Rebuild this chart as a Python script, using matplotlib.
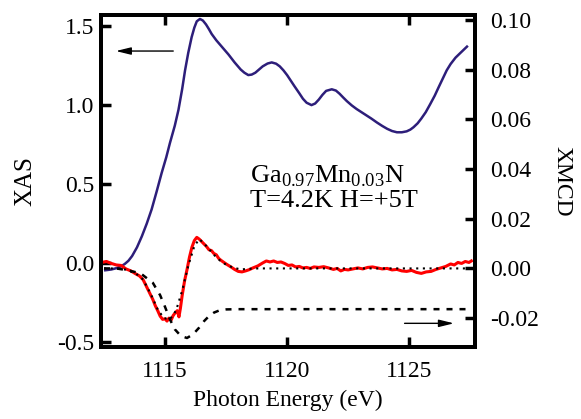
import matplotlib
matplotlib.use("Agg")
import matplotlib.pyplot as plt

plt.rcParams['font.family'] = ['Liberation Serif', 'DejaVu Serif']
plt.rcParams['mathtext.fontset'] = 'custom'
plt.rcParams['mathtext.rm'] = 'Liberation Serif'
plt.rcParams['axes.unicode_minus'] = False

# XAS (left axis)
xas_e = [1112.55, 1112.8, 1113.0, 1113.2, 1113.35, 1113.5, 1113.65, 1113.85, 1114.05, 1114.25,
         1114.45, 1114.65, 1114.86, 1115.05, 1115.2, 1115.4, 1115.55, 1115.7, 1115.82, 1115.95,
         1116.09, 1116.2, 1116.3, 1116.43, 1116.55, 1116.68, 1116.8, 1116.91, 1117.1, 1117.35,
         1117.6, 1117.85, 1118.1, 1118.25, 1118.41, 1118.55, 1118.7, 1118.85, 1119.0, 1119.2,
         1119.37, 1119.55, 1119.7, 1119.85, 1120.0, 1120.15, 1120.3, 1120.5, 1120.65, 1120.8,
         1121.0, 1121.15, 1121.3, 1121.45, 1121.6, 1121.83, 1122.0, 1122.15, 1122.3, 1122.45,
         1122.65, 1122.85, 1123.05, 1123.25, 1123.45, 1123.68, 1123.9, 1124.1, 1124.3, 1124.5,
         1124.7, 1124.9, 1125.05, 1125.18, 1125.35, 1125.5, 1125.68, 1125.86, 1126.05, 1126.2,
         1126.37, 1126.54, 1126.7, 1126.9, 1127.1, 1127.37]
xas = [-0.045, -0.040, -0.032, -0.020, -0.005, 0.015, 0.045, 0.10, 0.17, 0.25,
       0.34, 0.45, 0.57, 0.67, 0.76, 0.87, 0.97, 1.10, 1.22, 1.33,
       1.43, 1.49, 1.53, 1.545, 1.535, 1.51, 1.48, 1.45, 1.41, 1.365,
       1.32, 1.27, 1.225, 1.205, 1.19, 1.193, 1.205, 1.225, 1.245, 1.263,
       1.27, 1.262, 1.245, 1.22, 1.19, 1.155, 1.12, 1.075, 1.04, 1.015,
       1.00, 1.01, 1.035, 1.065, 1.09, 1.10, 1.092, 1.072, 1.048, 1.025,
       0.998, 0.975, 0.955, 0.935, 0.915, 0.89, 0.868, 0.85, 0.836, 0.828,
       0.828, 0.834, 0.845, 0.86, 0.885, 0.915, 0.955, 1.005, 1.06, 1.11,
       1.165, 1.22, 1.26, 1.30, 1.33, 1.37]

# XMCD measured (right axis)
xmcd_e = [1112.45, 1112.6, 1112.8, 1113.0, 1113.2, 1113.4, 1113.6, 1113.8, 1113.95, 1114.1,
          1114.2, 1114.3, 1114.4, 1114.5, 1114.6, 1114.7, 1114.8, 1114.9, 1115.0, 1115.08,
          1115.16, 1115.25, 1115.33, 1115.42, 1115.5, 1115.57, 1115.63, 1115.7, 1115.8, 1115.9,
          1116.0, 1116.1, 1116.2, 1116.3, 1116.4, 1116.5, 1116.6, 1116.7, 1116.8, 1116.9,
          1117.0, 1117.1, 1117.2, 1117.3, 1117.4, 1117.55, 1117.7, 1117.85, 1118.0, 1118.15,
          1118.3, 1118.45, 1118.6, 1118.8, 1119.0, 1119.15, 1119.3, 1119.45, 1119.6, 1119.75,
          1119.9, 1120.05, 1120.2, 1120.35, 1120.5, 1120.65, 1120.8, 1120.95, 1121.1, 1121.3,
          1121.5, 1121.7, 1121.9, 1122.05, 1122.2, 1122.35, 1122.5, 1122.7, 1122.9, 1123.1,
          1123.3, 1123.5, 1123.7, 1123.9, 1124.1, 1124.3, 1124.5, 1124.7, 1124.9, 1125.1,
          1125.3, 1125.5, 1125.7, 1125.9, 1126.1, 1126.3, 1126.5, 1126.7, 1126.85, 1127.0,
          1127.15, 1127.3, 1127.45, 1127.55]
xmcd = [0.0025, 0.0028, 0.0020, 0.0014, 0.0012, -0.0002, -0.0010, -0.0022, -0.0030, -0.0045,
        -0.0065, -0.0085, -0.0105, -0.0125, -0.0150, -0.0170, -0.0192, -0.0205, -0.0203, -0.0212,
        -0.0200, -0.0208, -0.0190, -0.0178, -0.0170, -0.0195, -0.0160, -0.0110, -0.0050, -0.0005,
        0.0045, 0.0085, 0.0112, 0.0125, 0.0118, 0.0108, 0.0098, 0.0088, 0.0075, 0.0072,
        0.0060, 0.0055, 0.0040, 0.0032, 0.0025, 0.0015, 0.0006, -0.0004, -0.0012, -0.0014,
        -0.0010, -0.0005, 0.0002, 0.0010, 0.0022, 0.0030, 0.0026, 0.0030, 0.0024, 0.0026,
        0.0020, 0.0012, 0.0014, 0.0006, 0.0008, 0.0002, 0.0004, 0.0000, 0.0006, 0.0004,
        0.0007, 0.0002, -0.0004, 0.0000, -0.0010, -0.0004, -0.0006, -0.0002, 0.0002, -0.0002,
        0.0004, 0.0006, 0.0002, -0.0002, 0.0000, -0.0006, -0.0004, -0.0010, -0.0012, -0.0008,
        -0.0016, -0.0020, -0.0014, -0.0012, -0.0004, 0.0002, 0.0008, 0.0018, 0.0014, 0.0024,
        0.0020, 0.0028, 0.0024, 0.0030]

# fitted XMCD (dotted)
fit_e = [1112.5, 1113.0, 1113.4, 1113.8, 1114.1, 1114.4, 1114.7, 1114.95, 1115.2, 1115.45,
         1115.7, 1115.95, 1116.2, 1116.4, 1116.6, 1116.8, 1117.0, 1117.25, 1117.5, 1117.8,
         1118.1, 1118.4, 1118.8, 1127.5]
fit = [0.0, 0.0, -0.0005, -0.0020, -0.0045, -0.0100, -0.0165, -0.0200, -0.0205, -0.0170,
       -0.0090, 0.0010, 0.0090, 0.0118, 0.0100, 0.0078, 0.0055, 0.0032, 0.0015, 0.0003,
       -0.0004, -0.0002, 0.0, 0.0]

# integrated XMCD (dashed)
integ_e = [1112.5, 1113.0, 1113.5, 1114.0, 1114.5, 1114.8, 1115.0, 1115.2, 1115.4, 1115.65,
           1115.9, 1116.15, 1116.4, 1116.6, 1116.8, 1117.0, 1117.25, 1117.5, 1118.0, 1127.5]
integ = [0.0, 0.0, -0.0008, -0.0020, -0.0058, -0.0108, -0.0155, -0.0205, -0.0245, -0.0272,
         -0.0280, -0.0265, -0.0238, -0.0212, -0.0192, -0.0178, -0.0168, -0.0165, -0.0164, -0.0164]

fig = plt.figure(figsize=(5.81, 4.19), dpi=100)
ax1 = fig.add_axes([0.174, 0.172, 0.6436, 0.7922])
ax2 = ax1.twinx()

ax1.plot(xas_e, xas, color='#2d1e7a', lw=1.8)
ax2.plot(xmcd_e, xmcd, color='#ff0000', lw=2.2)
ax2.plot(fit_e, fit, color='black', lw=1.5, dashes=(1, 2.2))
ax2.plot(integ_e, integ, color='black', lw=1.8, dashes=(2.4, 2.8))

ax1.set_xlim(1112.38, 1127.7)
ax1.set_ylim(-0.53, 1.57)
ax2.set_ylim(-0.0316, 0.102)

ax1.set_xticks([1115, 1120, 1125])
ax1.set_yticks([-0.5, 0.0, 0.5, 1.0, 1.5])
ax2.set_yticks([-0.02, 0.0, 0.02, 0.04, 0.06, 0.08, 0.10])
ax2.set_yticklabels(['-0.02', '0.00', '0.02', '0.04', '0.06', '0.08', '0.10'])

ax1.tick_params(axis='x', direction='in', top=True, length=7, width=2.5, labelsize=17, pad=10)
ax1.tick_params(axis='y', direction='in', length=7, width=2.5, labelsize=17, pad=5)
ax2.tick_params(axis='y', direction='in', length=7, width=2.5, labelsize=17, pad=11)
for ax in (ax1, ax2):
    for sp in ax.spines.values():
        sp.set_linewidth(2.8)

ax1.set_xlabel('Photon Energy (eV)', fontsize=17, labelpad=6)
ax1.set_ylabel('XAS', fontsize=18, labelpad=15)
ax2.set_ylabel('XMCD', fontsize=17, rotation=270, labelpad=24)

ax1.text(1118.48, 0.51, r'Ga$_{0.97}$Mn$_{0.03}$N', fontsize=19, va='baseline')
ax1.text(1118.48, 0.354, 'T=4.2K H=+5T', fontsize=19, va='baseline')

ax1.annotate('', xy=(1112.87, 1.342), xytext=(1115.45, 1.342),
             arrowprops=dict(arrowstyle='-|>,head_length=0.9,head_width=0.22', color='black', lw=1))
ax2.annotate('', xy=(1126.95, -0.0221), xytext=(1124.7, -0.0221),
             arrowprops=dict(arrowstyle='-|>,head_length=0.9,head_width=0.22', color='black', lw=1))

fig.savefig('out.png', dpi=100)
